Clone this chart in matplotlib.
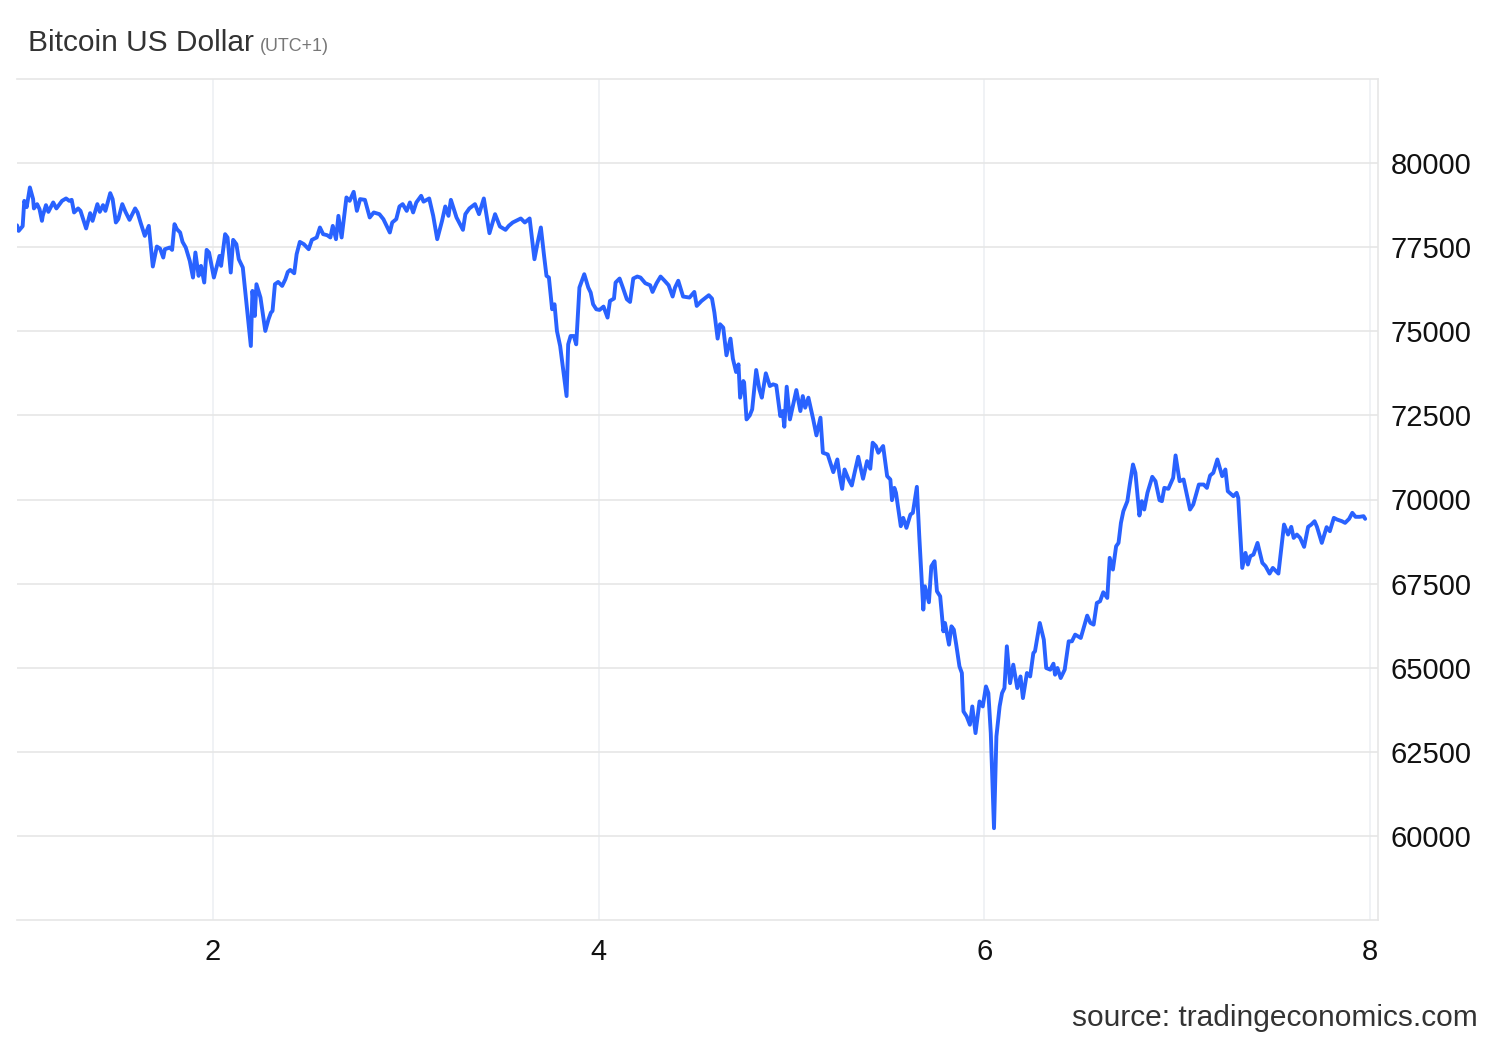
import matplotlib
matplotlib.use("Agg")
import matplotlib.pyplot as plt
import numpy as np

# hours since day 1 00:00 (UTC+1) and Bitcoin price in USD
hours = [
    -0.4, -0.2, 0.3, 0.5, 0.8, 1.2, 1.6, 1.7, 2.1, 2.4, 2.7, 2.8, 3.2, 3.5, 4.1, 4.5, 5.2, 5.7, 6.1, 6.4,
    6.7, 7.2, 7.5, 8.2, 8.7, 9.0, 9.6, 9.9, 10.3, 10.6, 11.2, 11.5, 11.9, 12.2, 12.7, 13.1, 13.6, 14.3, 14.6, 15.0,
    15.5, 16.0, 16.5, 17.0, 17.4, 17.8, 18.0, 18.6, 18.9, 19.2, 19.5, 19.9, 20.2, 20.6, 21.1, 21.5, 21.8, 22.2, 22.5, 22.9,
    23.2, 23.5, 24.1, 24.8, 25.0, 25.5, 25.8, 26.2, 26.5, 26.9, 27.2, 27.7, 28.1, 28.7, 28.9, 29.2, 29.4, 29.9, 30.5, 30.9,
    31.2, 31.4, 31.7, 32.1, 32.6, 33.0, 33.3, 33.6, 34.1, 34.4, 34.8, 35.3, 35.9, 36.3, 36.9, 37.3, 37.7, 38.2, 38.6, 38.9,
    39.3, 39.6, 40.0, 40.6, 41.0, 41.5, 41.9, 42.3, 42.9, 43.5, 44.0, 44.7, 45.2, 46.0, 46.3, 46.8, 47.2, 47.6, 48.1, 48.5,
    48.9, 49.3, 49.9, 50.2, 50.9, 51.4, 51.9, 52.5, 52.9, 53.3, 53.6, 54.3, 55.1, 55.4, 55.9, 56.6, 57.1, 57.7, 58.4, 59.1,
    59.7, 60.4, 60.8, 61.3, 62.3, 62.8, 63.4, 64.0, 64.4, 64.8, 65.2, 65.5, 65.8, 66.2, 66.5, 66.8, 67.2, 68.0, 68.2, 68.5,
    68.9, 69.2, 69.6, 70.2, 70.7, 71.0, 71.3, 71.7, 72.1, 72.6, 73.1, 73.4, 73.9, 74.1, 74.6, 75.0, 75.5, 75.9, 76.3, 76.8,
    77.2, 77.8, 78.4, 78.7, 79.2, 79.7, 80.2, 80.7, 81.2, 81.5, 81.9, 82.5, 83.3, 83.9, 84.2, 84.8, 85.7, 86.1, 86.4, 86.8,
    87.1, 87.5, 87.9, 88.4, 88.7, 89.1, 89.4, 89.6, 90.0, 90.1, 90.4, 90.8, 91.1, 91.6, 92.0, 92.3, 92.8, 93.3, 93.7, 94.1,
    94.6, 94.9, 95.1, 95.4, 95.8, 96.6, 97.1, 97.4, 97.7, 98.1, 98.7, 99.1, 99.6, 99.9, 100.5, 101.2, 101.7, 102.0, 102.3, 102.6,
    103.1, 103.5, 103.8, 104.3, 104.9, 105.4, 105.8, 106.1, 106.5, 106.8, 107.4, 107.9, 108.3, 108.5, 108.8, 109.0, 109.6, 109.9, 110.3, 110.8,
    111.1, 111.6, 111.9, 112.4, 112.6, 113.1, 113.4, 113.8, 114.1, 114.5, 114.9, 115.1, 115.6, 115.9, 116.2, 116.5, 116.9, 117.2, 117.4, 117.8,
    118.2, 118.5, 118.9, 119.4, 119.8, 120.2, 120.5, 120.8, 121.2, 121.5, 121.9, 122.2, 122.5, 122.8, 123.2, 123.6, 124.1, 124.5, 124.8, 125.3,
    125.7, 126.1, 126.3, 126.9, 127.4, 127.7, 128.2, 128.6, 128.8, 129.1, 129.5, 130.0, 130.5, 130.9, 131.3, 132.0, 132.8, 133.2, 133.6, 134.0,
    134.4, 134.8, 135.3, 135.6, 136.0, 136.4, 136.7, 137.0, 137.3, 137.8, 138.1, 138.5, 138.8, 139.3, 139.6, 139.9, 140.3, 140.9, 141.3, 141.8,
    142.1, 142.4, 142.9, 143.5, 143.8, 144.3, 144.8, 145.6, 146.0, 146.7, 147.3, 147.7, 148.1, 148.5, 149.0, 149.6, 150.0, 150.3, 151.0, 151.4,
    151.6, 152.1, 152.5, 152.8, 153.1, 153.5, 154.0, 154.6, 155.0, 155.5, 155.9, 156.6, 157.3, 157.8, 158.2, 158.5, 158.9, 159.3, 159.8, 160.3,
    160.7, 161.1, 161.4, 162.0, 162.6, 163.0, 163.5, 163.9, 164.5, 164.9, 165.4, 165.8, 166.2, 166.7, 167.2, 167.4,
]
price = [
    78150, 77985, 78125, 78878, 78690, 79277, 78929, 78652, 78780, 78631, 78283, 78432, 78750, 78551, 78830, 78652, 78878, 78949, 78878, 78908,
    78533, 78652, 78580, 78057, 78512, 78283, 78780, 78551, 78750, 78580, 79107, 78929, 78235, 78333, 78780, 78551, 78313, 78652, 78533, 78214,
    77837, 78134, 76926, 77520, 77460, 77192, 77440, 77490, 77420, 78185, 78036, 77937, 77658, 77490, 77093, 76598, 77342, 76648, 76945, 76450,
    77420, 77342, 76598, 77241, 76945, 77887, 77789, 76747, 77718, 77590, 77143, 76896, 75953, 74563, 76200, 75456, 76399, 76003, 75010, 75357,
    75556, 75605, 76399, 76467, 76349, 76547, 76765, 76825, 76726, 77292, 77658, 77590, 77440, 77718, 77789, 78086, 77887, 77857, 77789, 78134,
    77738, 78432, 77789, 78979, 78878, 79146, 78580, 78929, 78908, 78384, 78533, 78482, 78333, 77937, 78235, 78333, 78711, 78780, 78580, 78830,
    78533, 78830, 79027, 78854, 78949, 78432, 77738, 78283, 78711, 78432, 78908, 78384, 78016, 78482, 78652, 78780, 78482, 78949, 77916, 78482,
    78116, 78016, 78134, 78235, 78354, 78235, 78354, 77143, 77640, 78086, 77241, 76648, 76598, 75655, 75804, 75010, 74563, 73075, 74613, 74860,
    74860, 74613, 76301, 76697, 76301, 76152, 75804, 75655, 75635, 75735, 75407, 75903, 75973, 76450, 76569, 76301, 75953, 75873, 76569, 76628,
    76598, 76429, 76369, 76170, 76429, 76628, 76503, 76369, 76033, 76301, 76503, 76033, 76003, 76170, 75755, 75903, 76072, 75973, 75557, 74783,
    75209, 75110, 74286, 74783, 74186, 73789, 74018, 73027, 73522, 73473, 72381, 72500, 72679, 73849, 73274, 73027, 73751, 73373, 73423, 73393,
    72480, 72629, 72163, 73353, 72381, 73254, 72629, 73075, 72729, 73027, 72381, 71905, 72432, 71390, 71340, 70813, 71191, 70694, 70317, 70893,
    70595, 70417, 70744, 71271, 70616, 71141, 70914, 71688, 71589, 71390, 71589, 70694, 70595, 69980, 70346, 70198, 69206, 69454, 69157, 69554,
    69604, 70376, 68908, 66727, 67420, 66945, 68016, 68165, 67272, 67123, 66082, 66330, 65685, 66230, 66132, 65685, 65040, 64842, 63700, 63550,
    63304, 63848, 63056, 63997, 63848, 64443, 64244, 63056, 60229, 62957, 63848, 64244, 64393, 65636, 64541, 65090, 64393, 64740, 64097, 64842,
    64740, 65437, 65486, 66330, 65834, 64991, 64941, 65119, 64792, 64991, 64693, 64941, 65784, 65784, 65983, 65884, 66548, 66330, 66280, 66925,
    66975, 67242, 67074, 68265, 67917, 68610, 68710, 69305, 69650, 69950, 70445, 71041, 70793, 69524, 69950, 69702, 70198, 70674, 70545, 69980,
    69950, 70346, 70317, 70644, 71310, 70545, 70595, 69702, 69851, 70445, 70445, 70346, 70714, 70793, 71191, 70694, 70893, 70247, 70099, 70198,
    70049, 67966, 68413, 68066, 68314, 68364, 68710, 68116, 68016, 67798, 67966, 67798, 69256, 68958, 69187, 68859, 68958, 68859, 68592, 69187,
    69256, 69355, 69187, 68710, 69177, 69058, 69454, 69405, 69355, 69305, 69425, 69604, 69485, 69485, 69504, 69425,
]

y_ticks = [60000, 62500, 65000, 67500, 70000, 72500, 75000, 77500, 80000]
x_ticks = [2, 4, 6, 8]
title = "Bitcoin US Dollar"
subtitle = "(UTC+1)"
source = "source: tradingeconomics.com"

plt.rcParams['font.family'] = ['Liberation Sans', 'DejaVu Sans']

fig = plt.figure(figsize=(15, 10.4), dpi=100)
ax = fig.add_axes([17/1500, 1-920/1040, (1378-17)/1500, (920-79)/1040])

days = 1 + np.array(hours) / 24.0
ax.plot(days, price, color='#2962ff', lw=2.8, solid_joinstyle='round',
        solid_capstyle='round', zorder=3)

ax.set_xlim(2 - 196/192.75, 8 + 8/192.75)
ax.set_ylim(57500, 82500)
ax.set_xticks(x_ticks)
ax.set_xticklabels([str(t) for t in x_ticks])
ax.set_yticks(y_ticks)
ax.set_yticklabels([str(t) for t in y_ticks])
ax.yaxis.tick_right()
ax.tick_params(axis='both', length=0, labelsize=21, colors='#111111')
ax.tick_params(axis='y', pad=9)
ax.tick_params(axis='x', pad=13)

ax.grid(axis='y', color='#e6e6e6', lw=1.2)
ax.grid(axis='x', color='#eef0f3', lw=1.2)
ax.set_axisbelow(True)
ax.spines['left'].set_visible(False)
for s in ['top', 'bottom', 'right']:
    ax.spines[s].set_color('#e6e6e6')
    ax.spines[s].set_linewidth(1.2)

fig.text(28/1500, 1-51/1040, title, fontsize=21.5, color='#333333', va='baseline', ha='left')
fig.text(260/1500, 1-51/1040, subtitle, fontsize=12.9, color='#777777', va='baseline', ha='left')
fig.text(1478/1500, 1-1026/1040, source, fontsize=21.5, color='#333333', va='baseline', ha='right')

fig.savefig('out.png', dpi=100, facecolor='white')
